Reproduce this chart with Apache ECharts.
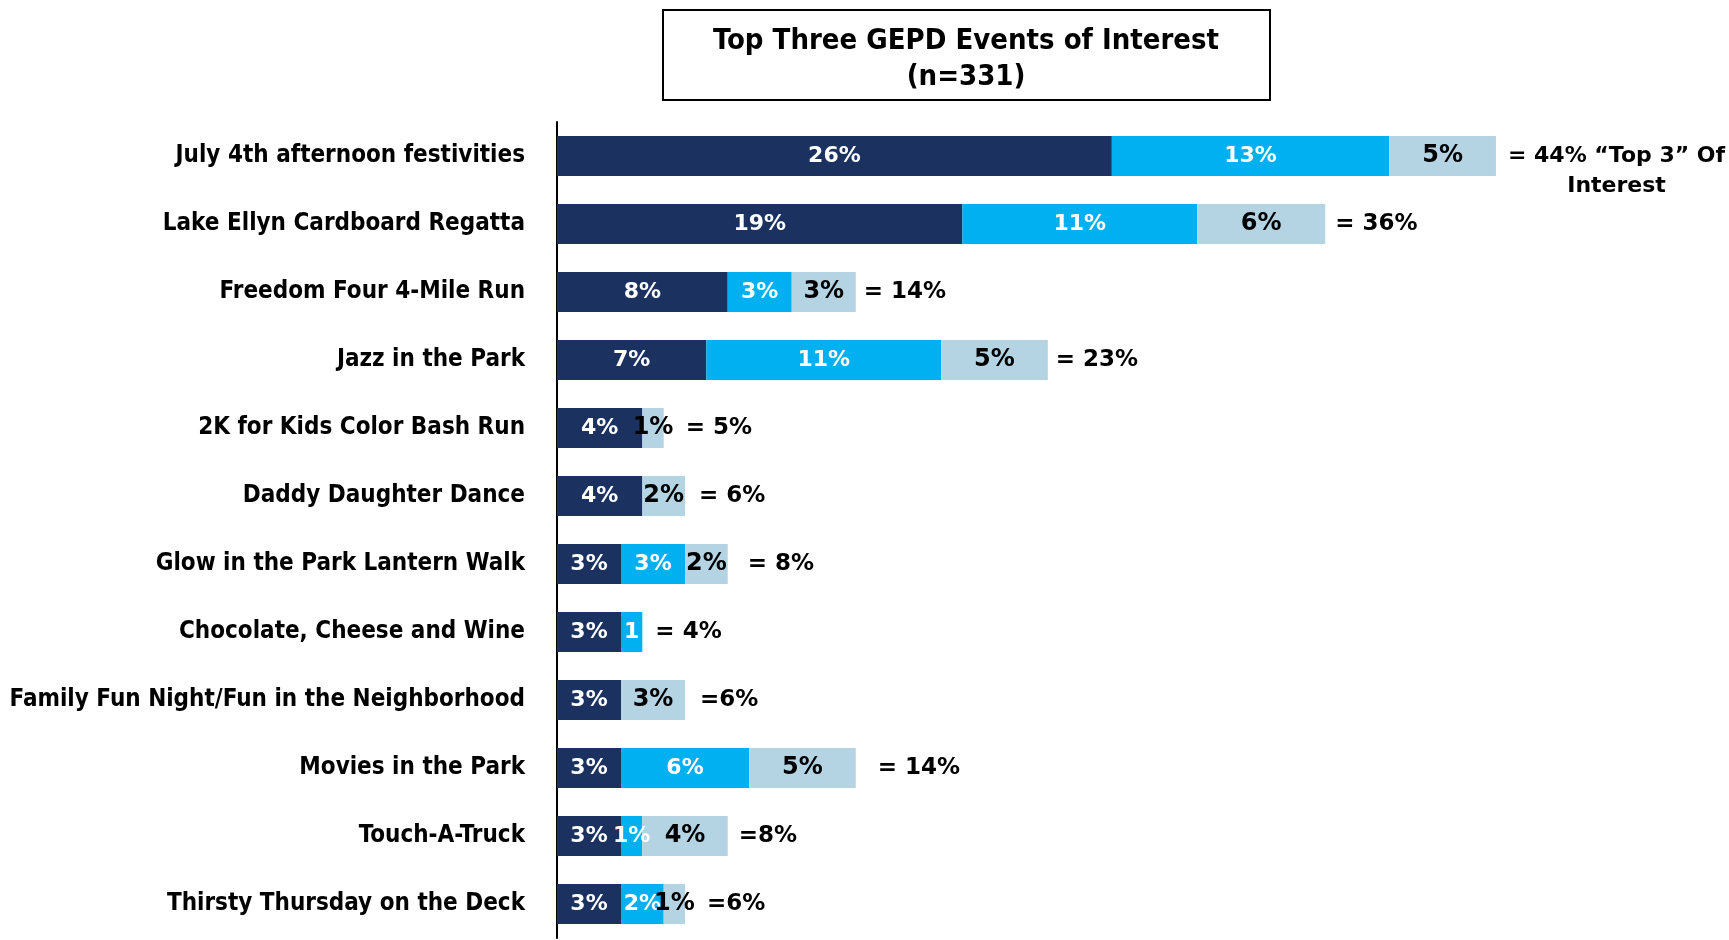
<!DOCTYPE html>
<html>
<head>
<meta charset="utf-8">
<script src="https://cdn.jsdelivr.net/npm/echarts@6/dist/echarts.min.js"></script>
<style>
  html, body { margin: 0; padding: 0; background: #fff; }
  #chart { width: 1729px; height: 940px; }
</style>
</head>
<body>
<div id="chart"></div>
<script>
// data
var categories = [
  'July 4th afternoon festivities',
  'Lake Ellyn Cardboard Regatta',
  'Freedom Four 4-Mile Run',
  'Jazz in the Park',
  '2K for Kids Color Bash Run',
  'Daddy Daughter Dance',
  'Glow in the Park Lantern Walk',
  'Chocolate, Cheese and Wine',
  'Family Fun Night/Fun in the Neighborhood',
  'Movies in the Park',
  'Touch-A-Truck',
  'Thirsty Thursday on the Deck'
]
var firstChoice = [26, 19, 8, 7, 4, 4, 3, 3, 3, 3, 3, 3]
var secondChoice = [13, 11, 3, 11, 0, 0, 3, 1, 0, 6, 1, 2]
var thirdChoice = [5, 6, 3, 5, 1, 2, 2, 0, 3, 5, 4, 1]
var totals = [44, 36, 14, 23, 5, 6, 8, 4, 6, 14, 8, 6]
var totalLabels = ['= 44% “Top 3” Of', '= 36%', '= 14%', '= 23%', '= 5%', '= 6%',
  '= 8%', '= 4%', '=6%', '= 14%', '=8%', '=6%']
// gap between bar end and the total text, as placed in the original slide
var totalGaps = [12, 10, 8, 8, 22, 14, 20, 13, 15, 22, 11, 22]

var labelFont = 'DejaVu Sans'
var catFont = 'DejaVu Sans Condensed'

var myChart = echarts.init(document.getElementById('chart'))

function pct(p) {
  return p.value ? p.value + '%' : ''
}

function barSeries(name, data, color, textColor, size) {
  return {
    name: name,
    type: 'bar',
    stack: 'top3',
    barWidth: 40,
    data: data,
    itemStyle: { color: color },
    label: {
      show: true,
      position: 'inside',
      formatter: pct,
      color: textColor,
      fontFamily: labelFont,
      fontWeight: 'bold',
      fontSize: size
    },
    emphasis: { disabled: true }
  }
}

var second = barSeries('2nd', secondChoice.slice(), '#00B0F0', '#fff', 22)
// the "1%" in the chocolate row is cut to "1" on the slide
second.data[7] = { value: secondChoice[7], label: { formatter: '1' } }

var totalData = totals.map(function (t, i) {
  var item = {
    value: [t, i],
    label: { formatter: totalLabels[i], distance: totalGaps[i] }
  }
  if (i === 0) {
    item.label = {
      distance: totalGaps[i],
      offset: [0, 15],
      formatter: '{a|' + totalLabels[i] + '}\n{b|Interest}',
      rich: {
        a: { fontFamily: labelFont, fontWeight: 'bold', fontSize: 22, color: '#000', lineHeight: 30 },
        b: { fontFamily: labelFont, fontWeight: 'bold', fontSize: 22, color: '#000', lineHeight: 30, align: 'center' }
      }
    }
  }
  return item
})

myChart.setOption({
  animation: false,
  graphic: [
    {
      type: 'rect',
      shape: { x: 663, y: 10, width: 607, height: 90 },
      style: { fill: '#fff', stroke: '#000', lineWidth: 2 }
    },
    {
      type: 'text',
      x: 966,
      y: 59,
      style: {
        text: 'Top Three GEPD Events of Interest\n(n=331)',
        align: 'center',
        verticalAlign: 'middle',
        fontFamily: catFont,
        fontWeight: 'bold',
        fontSize: 29,
        lineHeight: 36,
        fill: '#000'
      }
    }
  ],
  grid: { left: 557, right: 105, top: 122, bottom: 2 },
  xAxis: {
    type: 'value',
    min: 0,
    max: 50,
    show: false
  },
  yAxis: {
    type: 'category',
    inverse: true,
    data: categories,
    axisLine: { show: true, lineStyle: { color: '#000', width: 2 } },
    axisTick: { show: false },
    axisLabel: {
      margin: 32,
      color: '#000',
      fontFamily: catFont,
      fontWeight: 'bold',
      fontSize: 24
    }
  },
  series: [
    barSeries('1st', firstChoice, '#1B3160', '#fff', 22),
    second,
    barSeries('3rd', thirdChoice, '#B4D4E4', '#000', 24),
    {
      name: 'total',
      type: 'scatter',
      symbolSize: 0,
      data: totalData,
      itemStyle: { opacity: 1 },
      label: {
        show: true,
        position: 'right',
        color: '#000',
        fontFamily: labelFont,
        fontWeight: 'bold',
        fontSize: 23
      },
      z: 5,
      emphasis: { disabled: true }
    }
  ]
})
</script>
</body>
</html>
